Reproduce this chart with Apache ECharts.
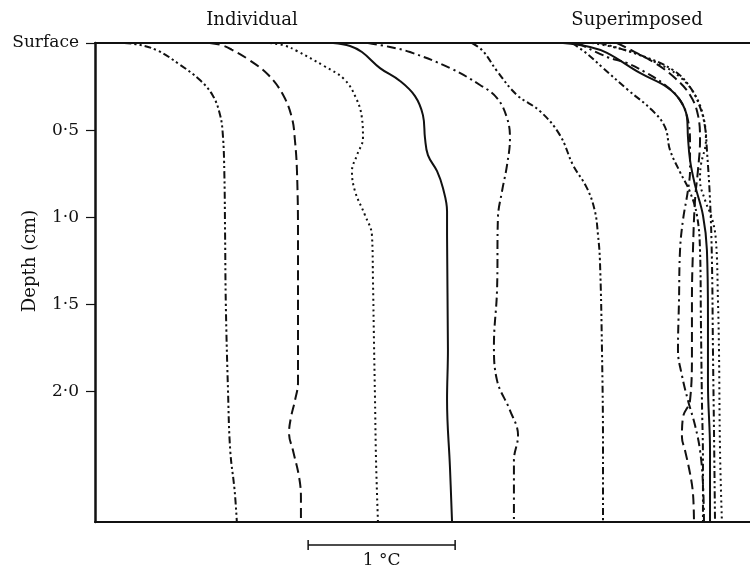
<!DOCTYPE html>
<html>
<head>
<meta charset="utf-8">
<script src="https://cdn.jsdelivr.net/npm/echarts@6/dist/echarts.min.js"></script>
<style>
  html, body { margin: 0; padding: 0; background: #fff; }
  #chart { width: 750px; height: 567px; }
</style>
</head>
<body>
<div id="chart"></div>
<script>
// Depth axis (cm), measured downwards from the surface
const depthTicks = [0, 0.5, 1.0, 1.5, 2.0];
const depthTickLabels = ['Surface', '0·5', '1·0', '1·5', '2·0'];
const depthMax = 2.75;

// Relative temperature (°C) across the panel width
const tempMax = 4.456;
const scaleBar = [1.45, 2.45];          // 1 °C reference bar
const scaleBarLabel = '1 °C';
const panelTitles = ['Individual', 'Superimposed'];

// Individual profiles: [temperature °C, depth cm]
const indDashDotDotA = [[0.20,0],[0.31,0.012],[0.43,0.045],[0.57,0.12],[0.71,0.21],[0.80,0.30],[0.85,0.41],[0.87,0.53],[0.88,0.75],[0.885,1.1],[0.89,1.5],[0.905,2.0],[0.92,2.34],[0.95,2.57],[0.965,2.75]];
const indDash = [[0.78,0],[0.86,0.012],[0.93,0.038],[1.05,0.098],[1.18,0.184],[1.28,0.299],[1.34,0.431],[1.36,0.557],[1.374,0.736],[1.381,1.1],[1.381,1.72],[1.381,1.95],[1.361,2.05],[1.333,2.15],[1.32,2.24],[1.347,2.34],[1.388,2.49],[1.401,2.61],[1.401,2.75]];
const indDotted = [[1.19,0],[1.29,0.015],[1.374,0.046],[1.558,0.132],[1.694,0.207],[1.776,0.316],[1.816,0.431],[1.823,0.546],[1.782,0.644],[1.748,0.736],[1.769,0.851],[1.837,0.989],[1.884,1.103],[1.891,1.36],[1.898,1.72],[1.905,2.05],[1.912,2.40],[1.925,2.75]];
const indSolid = [[1.62,0],[1.735,0.017],[1.816,0.052],[1.939,0.144],[2.075,0.218],[2.177,0.305],[2.231,0.414],[2.245,0.546],[2.265,0.644],[2.327,0.736],[2.367,0.833],[2.395,0.966],[2.395,1.103],[2.401,1.76],[2.395,2.05],[2.415,2.44],[2.429,2.75]];
const indDashDot = [[1.857,0],[2.007,0.023],[2.143,0.052],[2.415,0.144],[2.619,0.241],[2.735,0.316],[2.803,0.431],[2.823,0.546],[2.803,0.701],[2.769,0.851],[2.741,1.006],[2.735,1.42],[2.714,1.736],[2.735,1.937],[2.823,2.109],[2.878,2.253],[2.85,2.397],[2.85,2.569],[2.85,2.75]];
const indDashDotDotB = [[2.565,0],[2.639,0.046],[2.735,0.161],[2.871,0.299],[3.027,0.391],[3.163,0.529],[3.252,0.701],[3.347,0.833],[3.401,0.966],[3.422,1.103],[3.435,1.247],[3.449,1.764],[3.456,2.339],[3.456,2.75]];

// Superimposed profiles: [temperature °C, depth cm]
const supDashDotDotB = [[3.245,0],[3.333,0.052],[3.449,0.138],[3.626,0.27],[3.789,0.385],[3.878,0.483],[3.912,0.615],[3.98,0.741],[4.048,0.856],[4.095,0.989],[4.116,1.19],[4.122,1.592],[4.129,2.052],[4.136,2.397],[4.136,2.75]];
const supDashDot = [[3.286,0],[3.483,0.08],[3.619,0.115],[3.741,0.167],[3.878,0.241],[3.98,0.328],[4.034,0.443],[4.048,0.586],[4.048,0.73],[4.034,0.845],[4.0,1.017],[3.98,1.19],[3.973,1.477],[3.966,1.764],[3.993,1.908],[4.034,2.052],[4.082,2.195],[4.116,2.339],[4.136,2.529],[4.143,2.75]];
const supDash = [[3.551,0],[3.673,0.052],[3.81,0.115],[3.946,0.201],[4.048,0.299],[4.102,0.414],[4.116,0.557],[4.102,0.73],[4.082,0.902],[4.068,1.19],[4.061,1.477],[4.061,1.782],[4.048,2.052],[4.0,2.149],[3.993,2.264],[4.014,2.339],[4.048,2.471],[4.068,2.586],[4.075,2.75]];
const supSolid = [[3.184,0],[3.367,0.023],[3.483,0.057],[3.707,0.172],[3.891,0.253],[3.98,0.328],[4.027,0.425],[4.034,0.54],[4.048,0.672],[4.082,0.816],[4.136,0.989],[4.163,1.19],[4.17,1.575],[4.17,1.954],[4.184,2.339],[4.184,2.75]];
const supDotted = [[3.381,0],[3.605,0.04],[3.81,0.109],[3.98,0.195],[4.082,0.299],[4.136,0.414],[4.156,0.557],[4.122,0.701],[4.116,0.787],[4.15,0.902],[4.197,1.006],[4.224,1.132],[4.238,1.477],[4.245,1.764],[4.252,2.339],[4.265,2.75]];
const supDashDotDotA = [[3.435,0],[3.707,0.069],[3.932,0.155],[4.048,0.253],[4.116,0.368],[4.15,0.483],[4.163,0.615],[4.184,0.902],[4.197,1.247],[4.204,1.764],[4.211,2.224],[4.218,2.75]];

// Stroke patterns
const INK = '#111';
const PATTERN = {
  solid: 'solid',
  dash: [10, 5],
  dot: [2, 3.4],
  dashDot: [9, 4, 2.2, 4],
  dashDotDot: [7, 3, 2.2, 3, 2.2, 3]
};

const profiles = [
  { data: indDashDotDotA, pattern: 'dashDotDot' },
  { data: indDash, pattern: 'dash' },
  { data: indDotted, pattern: 'dot' },
  { data: indSolid, pattern: 'solid' },
  { data: indDashDot, pattern: 'dashDot' },
  { data: indDashDotDotB, pattern: 'dashDotDot' },
  { data: supDashDotDotB, pattern: 'dashDotDot' },
  { data: supDashDot, pattern: 'dashDot' },
  { data: supDash, pattern: 'dash' },
  { data: supSolid, pattern: 'solid' },
  { data: supDotted, pattern: 'dot' },
  { data: supDashDotDotA, pattern: 'dashDotDot' }
];

const SERIF = '"DejaVu Serif", "Liberation Serif", serif';

const chart = echarts.init(document.getElementById('chart'), null, { renderer: 'canvas' });

const lineSeries = profiles.map(p => ({
  type: 'line',
  data: p.data,
  smooth: 0.4,
  showSymbol: false,
  silent: true,
  animation: false,
  lineStyle: { color: INK, width: 2, type: PATTERN[p.pattern], cap: 'butt' }
}));

// 1 °C scale bar under the panel
const scaleSeries = {
  type: 'custom',
  clip: false,
  silent: true,
  animation: false,
  data: [[scaleBar[0], depthMax, scaleBar[1]]],
  renderItem(params, api) {
    const a = api.coord([api.value(0), api.value(1)]);
    const b = api.coord([api.value(2), api.value(1)]);
    const y = a[1] + 23;
    const st = { stroke: INK, lineWidth: 1.5 };
    return {
      type: 'group',
      children: [
        { type: 'line', shape: { x1: a[0], y1: y, x2: b[0], y2: y }, style: st },
        { type: 'line', shape: { x1: a[0], y1: y - 5, x2: a[0], y2: y + 5 }, style: st },
        { type: 'line', shape: { x1: b[0], y1: y - 5, x2: b[0], y2: y + 5 }, style: st },
        { type: 'text', style: { text: scaleBarLabel, x: (a[0] + b[0]) / 2, y: y + 7,
            align: 'center', verticalAlign: 'top', font: '17px ' + SERIF, fill: INK } }
      ]
    };
  }
};

chart.setOption({
  backgroundColor: '#fff',
  animation: false,
  title: [
    { text: panelTitles[0], left: 247, top: 6, textAlign: 'center',
      textStyle: { fontFamily: SERIF, fontSize: 18, fontWeight: 'normal', color: INK } },
    { text: panelTitles[1], left: 632, top: 6, textAlign: 'center',
      textStyle: { fontFamily: SERIF, fontSize: 18, fontWeight: 'normal', color: INK } }
  ],
  grid: { left: 95, right: 0, top: 43, bottom: 45, containLabel: false },
  xAxis: [
    { type: 'value', position: 'top', min: 0, max: tempMax,
      axisLine: { show: true, onZero: false, lineStyle: { color: INK, width: 2 } },
      axisTick: { show: false }, axisLabel: { show: false }, splitLine: { show: false } },
    { type: 'value', position: 'bottom', min: 0, max: tempMax,
      axisLine: { show: true, onZero: false, lineStyle: { color: INK, width: 2 } },
      axisTick: { show: false }, axisLabel: { show: false }, splitLine: { show: false } }
  ],
  yAxis: {
    type: 'value', inverse: true, min: 0, max: depthMax,
    axisLine: { show: true, onZero: false, lineStyle: { color: INK, width: 2.5 } },
    axisTick: { show: true, length: 9, customValues: depthTicks, lineStyle: { color: INK, width: 1.2 } },
    axisLabel: {
      show: true, margin: 16, customValues: depthTicks,
      formatter: v => depthTickLabels[depthTicks.indexOf(v)] ?? '',
      fontFamily: SERIF, fontSize: 17, color: INK
    },
    splitLine: { show: false }
  },
  graphic: [
    { type: 'text', x: 30, y: 261, rotation: Math.PI / 2,
      style: { text: 'Depth (cm)', align: 'center', verticalAlign: 'middle',
               font: '18px ' + SERIF, fill: INK } }
  ],
  series: [...lineSeries, scaleSeries]
});
</script>
</body>
</html>
